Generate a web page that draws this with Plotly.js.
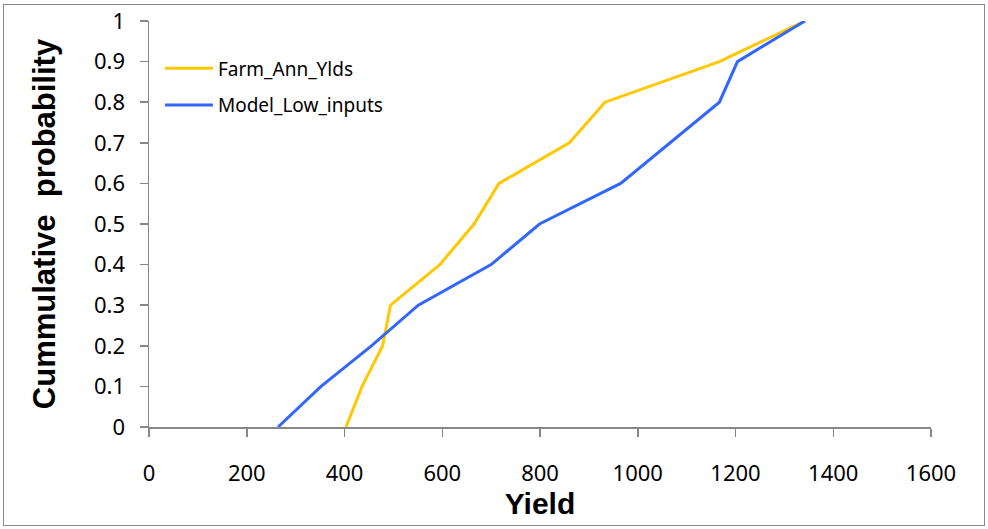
<!DOCTYPE html>
<html>
<head>
<meta charset="utf-8">
<script src="https://cdn.plot.ly/plotly-3.0.1.min.js"></script>
<style>
  html, body { margin: 0; padding: 0; background: #fff; }
  #wrap { position: relative; width: 988px; height: 529px; }
  #chart { position: absolute; left: 0; top: 0; width: 988px; height: 529px; }
  #frame { position: absolute; left: 3px; top: 4px; width: 980px; height: 520px;
           border: 1.5px solid #888; pointer-events: none; }
</style>
</head>
<body>
<div id="wrap">
  <div id="chart"></div>
  <div id="frame"></div>
</div>
<script>
// Cumulative probability levels
const probs = [0, 0.1, 0.2, 0.3, 0.4, 0.5, 0.6, 0.7, 0.8, 0.9, 1.0];
// Yields
const farmAnnYlds = [403, 436, 478, 494, 595, 665, 716, 860, 933, 1167, 1342];
const modelLowInputs = [264, 352, 455, 551, 700, 799, 965, 1065, 1167, 1204, 1342];
const seriesNames = ['Farm_Ann_Ylds', 'Model_Low_inputs'];
const xTicks = [0, 200, 400, 600, 800, 1000, 1200, 1400, 1600];

const tickFont = { family: 'Noto Sans, Open Sans, sans-serif', size: 22, color: '#000' };
const axisCol = '#878787';

const traces = [
  { x: farmAnnYlds, y: probs, mode: 'lines', name: seriesNames[0], legendgroup: 'a',
    line: { color: '#FFC800', width: 3 } },
  { x: modelLowInputs, y: probs, mode: 'lines', name: seriesNames[1], legendgroup: 'b',
    line: { color: '#3366FF', width: 3 } }
];

const layout = {
  width: 988, height: 529,
  margin: { l: 149, r: 57, t: 21, b: 102 },
  paper_bgcolor: '#fff', plot_bgcolor: '#fff',
  showlegend: true,
  legend: {
    x: 0.014, y: 0.93, xanchor: 'left', yanchor: 'top', itemwidth: 48,
    bgcolor: 'rgba(0,0,0,0)', traceorder: 'grouped', tracegroupgap: 9,
    font: { family: 'Noto Sans, Open Sans, sans-serif', size: 19, color: '#000' }
  },
  xaxis: {
    range: [0, 1600], tickvals: xTicks, ticktext: xTicks.map(String),
    showgrid: false, zeroline: false, showline: true, linecolor: axisCol, linewidth: 1.5,
    ticks: 'outside', ticklen: 8, tickwidth: 1.5, tickcolor: axisCol,
    tickfont: tickFont, ticklabelstandoff: 18, automargin: false,
    title: { text: '<b>Yield</b>', font: { family: 'Liberation Sans, Arial, sans-serif', size: 30, color: '#000' }, standoff: 6 }
  },
  yaxis: {
    range: [0, 1], dtick: 0.1, tick0: 0,
    showgrid: false, zeroline: false, showline: true, linecolor: axisCol, linewidth: 1.5,
    ticks: 'outside', ticklen: 8, tickwidth: 1.5, tickcolor: axisCol,
    tickfont: tickFont, ticklabelstandoff: 10, automargin: false,
    title: { text: '<b>Cummulative  probability</b>', font: { family: 'Liberation Sans, Arial, sans-serif', size: 31, color: '#000' }, standoff: 29 }
  }
};

Plotly.newPlot('chart', traces, layout, { displayModeBar: false, staticPlot: true });
</script>
</body>
</html>
